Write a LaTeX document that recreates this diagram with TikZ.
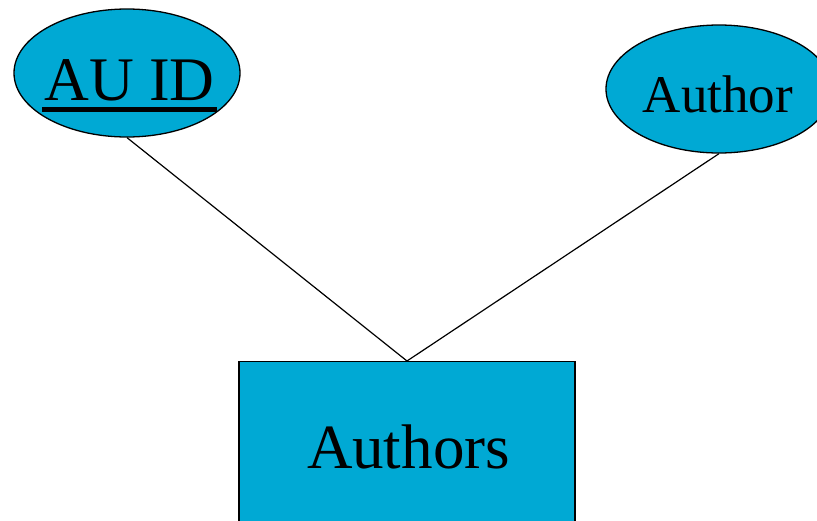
\documentclass[tikz,border=0pt]{standalone}
\usepackage{fontspec}
\setmainfont{Liberation Serif}
\usetikzlibrary{shapes.geometric}
\definecolor{erblue}{RGB}{0,169,212}
\tikzset{
  attr/.style={ellipse, draw=black, line width=1.3pt, fill=erblue, minimum width=226pt, minimum height=128pt, inner sep=0pt},
  entity/.style={rectangle, draw=black, line width=1.3pt, fill=erblue, minimum width=336pt, minimum height=200pt, inner sep=0pt, anchor=north},
  lbl/.style={inner sep=0pt, anchor=base, text=black},
  conn/.style={draw=black, line width=1.2pt}
}
\begin{document}
\begin{tikzpicture}[x=1pt,y=1pt]
\useasboundingbox (0,0) rectangle (817,-520);
\node[attr] (auid) at (127,-73) {};
\node[attr] (author) at (719,-89) {};
\node[entity] (authors) at (407,-361) {};
\node[lbl, font=\fontsize{62}{70}\selectfont] (tauid) at (129.5,-100) {AU ID};
\fill[black] (42,-107) rectangle (217,-112);
\node[lbl, font=\fontsize{53}{60}\selectfont] (tauthor) at (718,-112) {Author};
\node[lbl, font=\fontsize{63}{70}\selectfont] (tauthors) at (408.5,-468) {Authors};
\draw[conn] (auid.south) -- (authors.north);
\draw[conn] (author.south) -- (authors.north);
\end{tikzpicture}
\end{document}
